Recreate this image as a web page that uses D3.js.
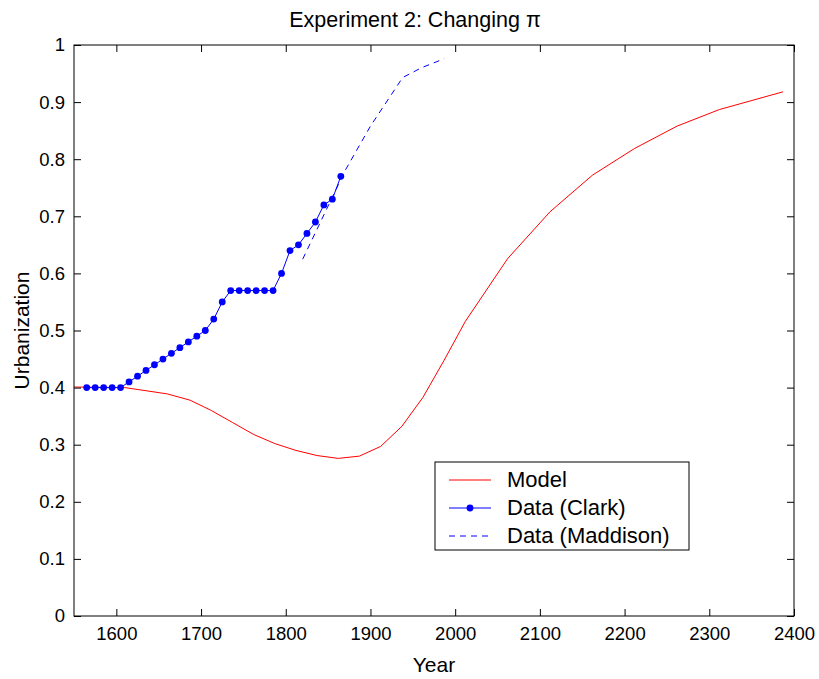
<!DOCTYPE html>
<html>
<head>
<meta charset="utf-8">
<script src="https://cdn.jsdelivr.net/npm/d3@7"></script>
<style>
  body { margin: 0; background: #fff; }
  svg { font-family: Arial, "Liberation Sans", sans-serif; }
</style>
</head>
<body>
<svg id="chart" width="819" height="679"></svg>
<script>
// model run
var modelYears = [1550, 1610, 1660, 1687, 1712, 1737, 1762, 1787, 1812, 1837, 1862, 1887, 1912,
  1937, 1962, 1987, 2012, 2062, 2112, 2162, 2212, 2262, 2312, 2387];
var modelValues = [0.401, 0.400, 0.389, 0.378, 0.360, 0.339, 0.318, 0.302, 0.290, 0.281, 0.276, 0.280, 0.297,
  0.332, 0.383, 0.448, 0.516, 0.626, 0.708, 0.772, 0.819, 0.858, 0.887, 0.918];

// Clark series (every 10 years)
var clarkYears = [1565, 1575, 1585, 1595, 1605, 1615, 1625, 1635, 1645, 1655, 1665, 1675, 1685, 1695,
  1705, 1715, 1725, 1735, 1745, 1755, 1765, 1775, 1785, 1795, 1805, 1815, 1825, 1835, 1845, 1855, 1865];
var clarkValues = [0.40, 0.40, 0.40, 0.40, 0.40, 0.41, 0.42, 0.43, 0.44, 0.45, 0.46, 0.47, 0.48, 0.49,
  0.50, 0.52, 0.55, 0.57, 0.57, 0.57, 0.57, 0.57, 0.57, 0.60, 0.64, 0.65, 0.67, 0.69, 0.72, 0.73, 0.77];

// Maddison series
var maddisonYears = [1820, 1870, 1900, 1938, 1960, 1987];
var maddisonValues = [0.625, 0.78, 0.858, 0.943, 0.960, 0.976];

var xTicks = [1600, 1700, 1800, 1900, 2000, 2100, 2200, 2300, 2400];
var yTicks = [0, 0.1, 0.2, 0.3, 0.4, 0.5, 0.6, 0.7, 0.8, 0.9, 1];
var legendLabels = ["Model", "Data (Clark)", "Data (Maddison)"];

var svg = d3.select("#chart"),
  MARGINS = { top: 45, right: 25, bottom: 63, left: 74 },
  WIDTH = 819, HEIGHT = 679;

var xScale = d3.scaleLinear().domain([1550, 2400]).range([MARGINS.left, WIDTH - MARGINS.right]);
var yScale = d3.scaleLinear().domain([0, 1]).range([HEIGHT - MARGINS.bottom, MARGINS.top]);

function zip(xs, ys) { return xs.map(function (x, i) { return [x, ys[i]]; }); }

svg.append("defs").append("clipPath").attr("id", "plotclip")
  .append("rect")
  .attr("x", MARGINS.left).attr("y", MARGINS.top)
  .attr("width", WIDTH - MARGINS.right - MARGINS.left)
  .attr("height", HEIGHT - MARGINS.bottom - MARGINS.top);

var line = d3.line().x(function (d) { return xScale(d[0]); }).y(function (d) { return yScale(d[1]); });

var plot = svg.append("g").attr("clip-path", "url(#plotclip)");

plot.append("path").datum(zip(modelYears, modelValues))
  .attr("d", line).attr("fill", "none").attr("stroke", "#ff0000").attr("stroke-width", 1);

plot.append("path").datum(zip(maddisonYears, maddisonValues))
  .attr("d", line).attr("fill", "none").attr("stroke", "#0000ff").attr("stroke-width", 1)
  .attr("stroke-dasharray", "6,5");

var clark = zip(clarkYears, clarkValues);
plot.append("path").datum(clark)
  .attr("d", line).attr("fill", "none").attr("stroke", "#0000ff").attr("stroke-width", 1);
plot.selectAll("circle.clark").data(clark).enter().append("circle")
  .attr("class", "clark")
  .attr("cx", function (d) { return xScale(d[0]); })
  .attr("cy", function (d) { return yScale(d[1]); })
  .attr("r", 3.4).attr("fill", "#0000ff");

// axes, MATLAB-style box with inward ticks
function styleAxis(g) {
  g.select(".domain").remove();
  g.selectAll(".tick line").attr("stroke", "#000");
  g.selectAll("text").attr("font-size", "18.5px").attr("fill", "#000");
}
var yTickFmt = function (d) { return d === 0 || d === 1 ? String(d) : d3.format(".1f")(d); };

svg.append("g").attr("transform", "translate(0," + yScale(0) + ")")
  .call(d3.axisBottom(xScale).tickValues(xTicks).tickSizeInner(-7).tickPadding(11).tickFormat(d3.format("d")))
  .call(styleAxis);
svg.append("g").attr("transform", "translate(0," + yScale(1) + ")")
  .call(d3.axisTop(xScale).tickValues(xTicks).tickSizeInner(-7).tickFormat(""))
  .call(styleAxis);
svg.append("g").attr("transform", "translate(" + xScale(1550) + ",0)")
  .call(d3.axisLeft(yScale).tickValues(yTicks).tickSizeInner(-7).tickPadding(9).tickFormat(yTickFmt))
  .call(styleAxis);
svg.append("g").attr("transform", "translate(" + xScale(2400) + ",0)")
  .call(d3.axisRight(yScale).tickValues(yTicks).tickSizeInner(-7).tickFormat(""))
  .call(styleAxis);

svg.append("rect")
  .attr("x", xScale(1550)).attr("y", yScale(1))
  .attr("width", xScale(2400) - xScale(1550)).attr("height", yScale(0) - yScale(1))
  .attr("fill", "none").attr("stroke", "#000").attr("stroke-width", 1);

// labels
svg.append("text").attr("x", 415).attr("y", 27)
  .attr("text-anchor", "middle").attr("font-size", "21.5px").text("Experiment 2: Changing π");
svg.append("text").attr("x", (xScale(1550) + xScale(2400)) / 2).attr("y", 672)
  .attr("text-anchor", "middle").attr("font-size", "21px").text("Year");
svg.append("text").attr("transform", "translate(29," + yScale(0.5) + ") rotate(-90)")
  .attr("text-anchor", "middle").attr("font-size", "21px").text("Urbanization");

// legend
var lg = svg.append("g").attr("transform", "translate(435,462)");
lg.append("rect").attr("width", 254).attr("height", 88)
  .attr("fill", "#fff").attr("stroke", "#000").attr("stroke-width", 1);
var rowY = [18, 46, 74];
legendLabels.forEach(function (lab, i) {
  var sw = lg.append("line").attr("x1", 14).attr("x2", 56).attr("y1", rowY[i]).attr("y2", rowY[i])
    .attr("stroke", i === 0 ? "#ff0000" : "#0000ff").attr("stroke-width", 1);
  if (i === 2) sw.attr("stroke-dasharray", "6,5");
  if (i === 1) lg.append("circle").attr("cx", 35).attr("cy", rowY[i]).attr("r", 3.4).attr("fill", "#0000ff");
  lg.append("text").attr("x", 72).attr("y", rowY[i] + 7).attr("font-size", "22px").text(lab);
});
</script>
</body>
</html>
